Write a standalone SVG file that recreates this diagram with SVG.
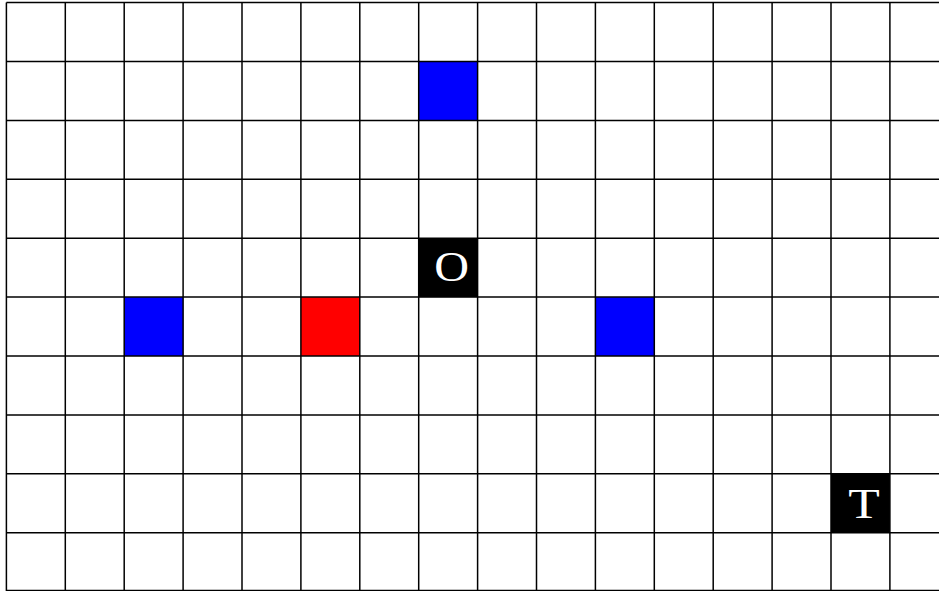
<svg xmlns="http://www.w3.org/2000/svg" width="939" height="591" viewBox="0 0 939 591">
<style>
.grid line{stroke:#000;stroke-width:1.5}
.blue{fill:#0000ff}
.red{fill:#ff0000}
.blk{fill:#000}
.lbl{fill:#fff;font-family:"Liberation Serif","DejaVu Serif",serif;font-size:43px;text-anchor:middle}
</style>
<rect x="0" y="0" width="939" height="591" fill="#fff"/>
<g id="cells">
<rect id="blue-top" class="blue" x="418.7" y="61.5" width="58.9" height="58.9"/>
<rect id="blue-left" class="blue" x="124.2" y="297.1" width="58.9" height="58.9"/>
<rect id="red" class="red" x="300.9" y="297.1" width="58.9" height="58.9"/>
<rect id="blue-right" class="blue" x="595.4" y="297.1" width="58.9" height="58.9"/>
</g>
<g id="node-O">
<rect class="blk" x="418.7" y="238.2" width="58.9" height="58.9"/>
<text class="lbl" transform="translate(451.7,280.5) scale(1.12,1)">O</text>
</g>
<g id="node-T">
<rect class="blk" x="831" y="473.8" width="58.9" height="58.9"/>
<text class="lbl" transform="translate(864,518) scale(1.2,1)">T</text>
</g>
<g class="grid" id="grid">
<line x1="6.4" y1="2.6" x2="6.4" y2="595"/>
<line x1="65.3" y1="2.6" x2="65.3" y2="595"/>
<line x1="124.2" y1="2.6" x2="124.2" y2="595"/>
<line x1="183.1" y1="2.6" x2="183.1" y2="595"/>
<line x1="242" y1="2.6" x2="242" y2="595"/>
<line x1="300.9" y1="2.6" x2="300.9" y2="595"/>
<line x1="359.8" y1="2.6" x2="359.8" y2="595"/>
<line x1="418.7" y1="2.6" x2="418.7" y2="595"/>
<line x1="477.6" y1="2.6" x2="477.6" y2="595"/>
<line x1="536.5" y1="2.6" x2="536.5" y2="595"/>
<line x1="595.4" y1="2.6" x2="595.4" y2="595"/>
<line x1="654.3" y1="2.6" x2="654.3" y2="595"/>
<line x1="713.2" y1="2.6" x2="713.2" y2="595"/>
<line x1="772.1" y1="2.6" x2="772.1" y2="595"/>
<line x1="831" y1="2.6" x2="831" y2="595"/>
<line x1="889.9" y1="2.6" x2="889.9" y2="595"/>
<line x1="6.4" y1="2.6" x2="945" y2="2.6"/>
<line x1="6.4" y1="61.5" x2="945" y2="61.5"/>
<line x1="6.4" y1="120.4" x2="945" y2="120.4"/>
<line x1="6.4" y1="179.3" x2="945" y2="179.3"/>
<line x1="6.4" y1="238.2" x2="945" y2="238.2"/>
<line x1="6.4" y1="297.1" x2="945" y2="297.1"/>
<line x1="6.4" y1="356" x2="945" y2="356"/>
<line x1="6.4" y1="414.9" x2="945" y2="414.9"/>
<line x1="6.4" y1="473.8" x2="945" y2="473.8"/>
<line x1="6.4" y1="532.7" x2="945" y2="532.7"/>
<line x1="6.4" y1="590.6" x2="945" y2="590.6"/>
</g>
</svg>
